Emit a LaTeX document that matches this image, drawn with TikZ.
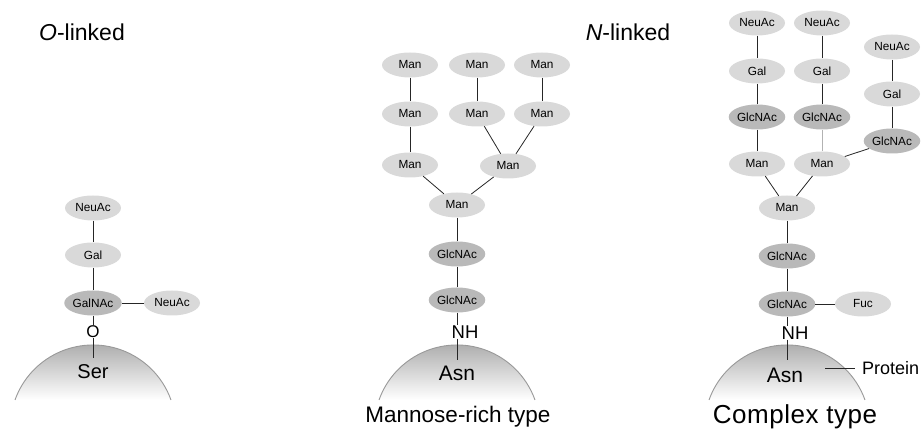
\documentclass[tikz,border=0pt]{standalone}
\usepackage{fontspec}
\setmainfont{Liberation Sans}
\usetikzlibrary{shapes.geometric}

\begin{document}
\begin{tikzpicture}[x = 1pt, y = 1pt,
        sugar/.style = {ellipse, fill = gray!30, minimum width = 56pt, minimum height = 25pt,
            inner sep = 0pt, font = \fontsize{11.8}{12}\selectfont},
        sugardark/.style = {sugar, fill = gray!55},
        bond/.style = {black!85, line width = 0.8pt},
        atom/.style = {inner sep = 0pt, font = \fontsize{18.5}{19}\selectfont}]
        \useasboundingbox (0,0) rectangle (922,430);

        \node[font = \fontsize{23}{23}\selectfont] (olinked) at (82,398) {\textit{O}-linked};
        \node[font = \fontsize{23}{23}\selectfont] (nlinked) at (628,398) {\textit{N}-linked};

        % O-linked
        \begin{scope}[xshift = 93pt]
            \shade[top color = gray!75, bottom color = white] (-78,30) arc[start angle = 160.4, end angle = 19.6, radius = 82.8] -- cycle;
            \draw[gray!80, line width = 0.9pt] (-78,30) arc[start angle = 160.4, end angle = 19.6, radius = 82.8];

            \node[sugar] (neuac) at (0,222) {NeuAc};
            \node[sugar] (gal) at (0,175) {Gal};
            \node[sugardark] (galnac) at (0,127) {GalNAc};
            \node[sugar] (neuacb) at (79,127) {NeuAc};
            \node[atom, font = \fontsize{17}{17}\selectfont] (o) at (0,98) {O};
            \node[font = \fontsize{20}{20}\selectfont] (ser) at (0,58) {Ser};
            \coordinate (serlink) at (0,72);
            \draw[bond] (neuac) -- (gal);
            \draw[bond] (gal) -- (galnac);
            \draw[bond] (galnac) -- (neuacb);
            \draw[bond] (galnac) -- (o);
            \draw[bond] (o) -- (serlink);
        \end{scope}

        % N-linked, mannose-rich
        \begin{scope}[xshift = 457pt]
            \shade[top color = gray!75, bottom color = white] (-78,30) arc[start angle = 160.4, end angle = 19.6, radius = 82.8] -- cycle;
            \draw[gray!80, line width = 0.9pt] (-78,30) arc[start angle = 160.4, end angle = 19.6, radius = 82.8];

            \node[sugar] (m1) at (-47,365) {Man};
            \node[sugar] (m2) at (20,365) {Man};
            \node[sugar] (m3) at (85,365) {Man};
            \node[sugar] (m4) at (-47,316) {Man};
            \node[sugar] (m5) at (20,316) {Man};
            \node[sugar] (m6) at (85,316) {Man};
            \node[sugar] (m7) at (-47,265) {Man};
            \node[sugar] (m8) at (51,264) {Man};
            \node[sugar] (m9) at (0,225) {Man};
            \node[sugardark] (g1) at (0,176) {GlcNAc};
            \node[sugardark] (g2) at (0,130) {GlcNAc};
            \node[atom] (nh) at (8,98) {NH};
            \node[font = \fontsize{21}{21}\selectfont] (asn) at (0,57) {Asn};
            \node[font = \fontsize{22.5}{23}\selectfont] (mrtype) at (1,13) {Mannose-rich type};
            \coordinate (asnlink) at (0,70);
            \draw[bond] (m1) -- (m4);
            \draw[bond] (m4) -- (m7);
            \draw[bond] (m2) -- (m5);
            \draw[bond] (m3) -- (m6);
            \draw[bond] (m5) -- (m8);
            \draw[bond] (m6) -- (m8);
            \draw[bond] (m7) -- (m9);
            \draw[bond] (m8) -- (m9);
            \draw[bond] (m9) -- (g1);
            \draw[bond] (g1) -- (g2);
            \draw[bond] (g2) -- (g2 |- nh.north);
            \draw[bond] (g2 |- nh.south) -- (asnlink);
        \end{scope}

        % N-linked, complex
        \begin{scope}[xshift = 787pt]
            \shade[top color = gray!75, bottom color = white] (-78,30) arc[start angle = 160.4, end angle = 19.6, radius = 82.8] -- cycle;
            \draw[gray!80, line width = 0.9pt] (-78,30) arc[start angle = 160.4, end angle = 19.6, radius = 82.8];

            \node[sugar] (na1) at (-30,407) {NeuAc};
            \node[sugar] (na2) at (35,407) {NeuAc};
            \node[sugar] (na3) at (105,383) {NeuAc};
            \node[sugar] (ga1) at (-30,359) {Gal};
            \node[sugar] (ga2) at (35,359) {Gal};
            \node[sugar] (ga3) at (105,336) {Gal};
            \node[sugardark] (gn1) at (-30,313) {GlcNAc};
            \node[sugardark] (gn2) at (35,313) {GlcNAc};
            \node[sugardark] (gn3) at (105,289) {GlcNAc};
            \node[sugar] (ma1) at (-30,266) {Man};
            \node[sugar] (ma2) at (35,266) {Man};
            \node[sugar] (ma3) at (0,222) {Man};
            \node[sugardark] (gn4) at (0,174) {GlcNAc};
            \node[sugardark] (gn5) at (0,126) {GlcNAc};
            \node[sugar] (fuc) at (76,126) {Fuc};
            \node[atom] (nhb) at (8,97) {NH};
            \node[font = \fontsize{21}{21}\selectfont] (asnb) at (-2,55) {Asn};
            \node[anchor = west, inner sep = 0pt, font = \fontsize{18}{18}\selectfont] (prot) at (75,62) {Protein};
            \node[font = \fontsize{26}{26}\selectfont\addfontfeature{LetterSpace = 2}] (cxtype) at (8,13) {Complex type};
            \coordinate (asnlinkb) at (0,70);
            \coordinate (pin) at (38,62);
            \draw[bond] (na1) -- (ga1);
            \draw[bond] (ga1) -- (gn1);
            \draw[bond] (gn1) -- (ma1);
            \draw[bond] (na2) -- (ga2);
            \draw[bond] (ga2) -- (gn2);
            \draw[bond, gray!60] (gn2) -- (ma2);
            \draw[bond] (na3) -- (ga3);
            \draw[bond] (ga3) -- (gn3);
            \draw[bond] (gn3) -- (ma2);
            \draw[bond] (ma1) -- (ma3);
            \draw[bond] (ma2) -- (ma3);
            \draw[bond] (ma3) -- (gn4);
            \draw[bond] (gn4) -- (gn5);
            \draw[bond] (gn5) -- (fuc);
            \draw[bond] (gn5) -- (gn5 |- nhb.north);
            \draw[bond] (gn5 |- nhb.south) -- (asnlinkb);
            \draw[bond] (pin) -- ([xshift = -7pt]prot.west);
        \end{scope}
    \end{tikzpicture}
\end{document}
